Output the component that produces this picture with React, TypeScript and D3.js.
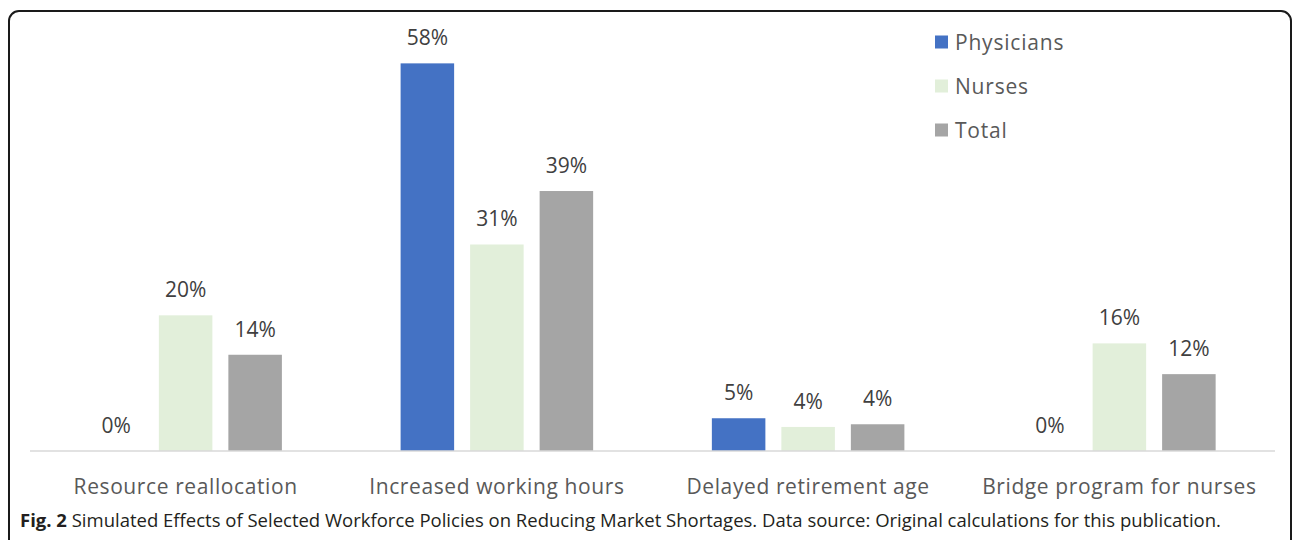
import * as d3 from 'd3';

const categories = ['Resource reallocation', 'Increased working hours', 'Delayed retirement age', 'Bridge program for nurses'];
const seriesNames = ['Physicians', 'Nurses', 'Total'];
const physicians = [0, 58, 4.9, 0];
const nurses = [20.3, 30.9, 3.6, 16.1];
const total = [14.4, 38.9, 4.0, 11.5];
const seriesColors = ['#4472c4', '#e2efda', '#a5a5a5'];

const W = 1292;
const H = 540;
const baseY = 451;
const font = "'Open Sans', 'Noto Sans', sans-serif";

export default function App() {
  const values = [physicians, nurses, total];

  const x0 = d3.scaleBand<string>().domain(categories).range([30, 1275]);
  const x1 = d3
    .scaleBand<string>()
    .domain(seriesNames)
    .range([0, x0.bandwidth()])
    .paddingInner(0.23)
    .paddingOuter(0.854);
  const y = d3.scaleLinear().domain([0, 60]).range([baseY, 50]);

  return (
    <svg width={W} height={H} style={{ position: 'absolute', left: 0, top: 0, background: '#fff' }}>
      <rect x={9} y={11} width={1282} height={570} rx={10} fill="none" stroke="#1a1a1a" strokeWidth={2} />

      {categories.map((cat, ci) => (
        <g key={cat} transform={`translate(${x0(cat)},0)`}>
          {seriesNames.map((s, si) => {
            const v = values[si][ci];
            const bx = x1(s) || 0;
            return (
              <g key={s}>
                {v > 0 && (
                  <rect
                    x={bx}
                    y={y(v)}
                    width={x1.bandwidth()}
                    height={baseY - y(v)}
                    fill={seriesColors[si]}
                  />
                )}
                <text
                  x={bx + x1.bandwidth() / 2}
                  y={y(v) - 18}
                  textAnchor="middle"
                  fontFamily={font}
                  fontSize={21}
                  fill="#404040"
                >
                  {d3.format('.0f')(v)}%
                </text>
              </g>
            );
          })}
          <text
            x={x0.bandwidth() / 2}
            y={494}
            textAnchor="middle"
            fontFamily={font}
            fontSize={21}
            letterSpacing={0.6}
            fill="#595959"
          >
            {cat}
          </text>
        </g>
      ))}

      <line x1={30} x2={1275} y1={baseY} y2={baseY} stroke="#d9d9d9" strokeWidth={1.5} />

      {seriesNames.map((s, i) => (
        <g key={s} transform={`translate(935,${42 + i * 44})`}>
          <rect x={0} y={-6.5} width={13} height={13} fill={seriesColors[i]} />
          <text x={20} y={7.5} fontFamily={font} fontSize={21} letterSpacing={0.8} fill="#595959">
            {s}
          </text>
        </g>
      ))}

      <text x={20} y={527} fontFamily={font} fontSize={18.5} fill="#231f20">
        <tspan fontWeight="bold">Fig. 2</tspan>
        <tspan> Simulated Effects of Selected Workforce Policies on Reducing Market Shortages. Data source: Original calculations for this publication.</tspan>
      </text>
    </svg>
  );
}
